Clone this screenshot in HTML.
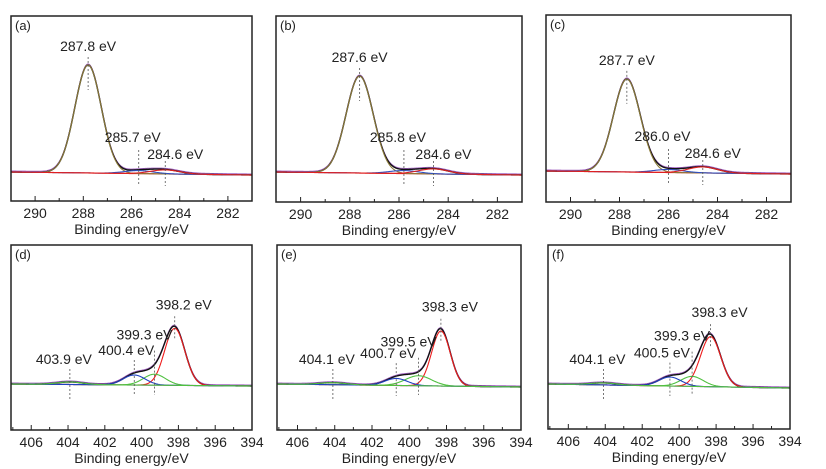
<!DOCTYPE html>
<html><head><meta charset="utf-8">
<style>
html,body{margin:0;padding:0;background:#fff;}
svg{display:block;font-family:"Liberation Sans",Arial,sans-serif;}
</style></head>
<body>
<svg id="fig" width="826" height="469" viewBox="0 0 826 469" xmlns="http://www.w3.org/2000/svg"></svg>
<script>
// Panel data (energies in eV, heights in arbitrary counts)
const panelLetters = ['(a)','(b)','(c)','(d)','(e)','(f)'];
const peakCenters = [
  [287.8, 285.7, 284.6],
  [287.6, 285.8, 284.6],
  [287.7, 286.0, 284.6],
  [398.2, 399.3, 400.4, 403.9],
  [398.3, 399.5, 400.7, 404.1],
  [398.3, 399.3, 400.5, 404.1]
];
const peakHeights = [
  [108, 3, 4],
  [97, 3, 5],
  [93, 3, 6],
  [57, 11, 10, 2.5],
  [55, 10, 7, 2],
  [50, 10, 9, 2]
];
const peakSigmas = [
  [0.55, 0.6, 0.6],
  [0.55, 0.6, 0.6],
  [0.55, 0.6, 0.6],
  [0.55, 0.6, 0.6, 0.7],
  [0.5, 0.7, 0.6, 0.7],
  [0.55, 0.6, 0.6, 0.7]
];
const peakLabels = [
  ['287.8 eV','285.7 eV','284.6 eV'],
  ['287.6 eV','285.8 eV','284.6 eV'],
  ['287.7 eV','286.0 eV','284.6 eV'],
  ['398.2 eV','399.3 eV','400.4 eV','403.9 eV'],
  ['398.3 eV','399.5 eV','400.7 eV','404.1 eV'],
  ['398.3 eV','399.3 eV','400.5 eV','404.1 eV']
];
const bgLeft = [1, 1, 1, 1, 1, 1];
const bgRight = [-2, -2, -2, -1, -2, -3];
const topTicks = [290, 288, 286, 284, 282];
const botTicks = [406, 404, 402, 400, 398, 396, 394];

// layout (not data)
const boxes = [
  {x:11,y:16,w:241,h:185},{x:276,y:16,w:246,h:186},{x:546,y:15,w:245,h:187},
  {x:11,y:245,w:241,h:185},{x:277,y:245,w:244,h:185},{x:548,y:245,w:242,h:184}
];
const topColors = ['#8a7a38','#3050c0','#e02020'];
const botColors = ['#ee1c1c','#50c040','#2040c0','#50c040'];
const NS='http://www.w3.org/2000/svg';
const svg=document.getElementById('fig');
function mk(tag,attrs,parent){const e=document.createElementNS(NS,tag);for(const k in attrs)e.setAttribute(k,attrs[k]);(parent||svg).appendChild(e);return e;}
function gauss(x,c,h,s){return h*Math.exp(-0.5*((x-c)/s)*((x-c)/s));}

for(let p=0;p<6;p++){
  const b=boxes[p], top=p<3;
  const xL=top?291:407.1, xR=top?281:394;
  const base=b.y+(top?157:140);
  const xs=v=>b.x+(xL-v)/(xL-xR)*b.w;
  const ys=v=>base-v;
  const g=mk('g',{});
  
  
  const clipId='clip'+p;
  const cp=mk('clipPath',{id:clipId},g);
  mk('rect',{x:b.x,y:b.y,width:b.w,height:b.h},cp);
  const plot=mk('g',{'clip-path':'url(#'+clipId+')'},g);
  const bg=x=>bgLeft[p]+(bgRight[p]-bgLeft[p])*(xL-x)/(xL-xR);
  const N=300;
  const comps=peakCenters[p].map((c,i)=>{let d='';for(let k=0;k<=N;k++){const x=xL-(xL-xR)*k/N;const v=bg(x)+gauss(x,c,peakHeights[p][i],peakSigmas[p][i]);d+=(k?'L':'M')+xs(x).toFixed(2)+','+ys(v).toFixed(2);}return d;});
  let env='',bgd='';
  for(let k=0;k<=N;k++){const x=xL-(xL-xR)*k/N;let v=bg(x);peakCenters[p].forEach((c,i)=>v+=gauss(x,c,peakHeights[p][i],peakSigmas[p][i]));env+=(k?'L':'M')+xs(x).toFixed(2)+','+ys(v).toFixed(2);bgd+=(k?'L':'M')+xs(x).toFixed(2)+','+ys(bg(x)).toFixed(2);}
  const bgl=mk('path',{d:bgd,fill:'none',stroke:top?'#e02020':'#b050c0','stroke-width':1.2},plot);
  
  
  const el2=mk('path',{d:env,fill:'none',stroke:'#a060c0','stroke-width':1,transform:'translate(0,-1)'},plot);
  
  
  const el=mk('path',{d:env,fill:'none',stroke:'#111','stroke-width':1.4},plot);
  
  
  comps.forEach((d,i)=>{const e=mk('path',{d:d,fill:'none',stroke:top?topColors[i]:botColors[i],'stroke-width':1.1},plot);
    
    });
  // annotations
  peakCenters[p].forEach((c,i)=>{
    let yPeak=bg(c); peakCenters[p].forEach((cc,j)=>yPeak+=gauss(c,cc,peakHeights[p][j],peakSigmas[p][j]));
    let dTop,dBot,ly,lx;
    if(top){
      if(i===0){dTop=ys(yPeak)-8;dBot=ys(yPeak)+25;ly=ys(yPeak)-14;lx=xs(c);}
      else if(i===1){dTop=base-23;dBot=base+13;ly=base-31;lx=xs(c)-6;}
      else{dTop=base-12;dBot=base+13;ly=base-14;lx=xs(c)+10;}
    } else {
      if(i===0){dTop=ys(yPeak)-10;dBot=ys(yPeak)+14;ly=ys(yPeak)-17;lx=xs(c)+9;}
      else if(i===1){dTop=ys(yPeak)-14;dBot=base+10;ly=ys(yPeak)-25;lx=xs(c)-10;}
      else if(i===2){dTop=ys(yPeak)-13;dBot=base+11;ly=ys(yPeak)-18;lx=xs(c)-8;}
      else{dTop=base-16;dBot=base+14;ly=base-21;lx=xs(c)-6;}
    }
    const dl=mk('line',{x1:xs(c),x2:xs(c),y1:dTop,y2:dBot,stroke:'#555','stroke-width':0.8,'stroke-dasharray':'2,2'},g);
    
    
    const t=mk('text',{x:lx,y:ly,'font-size':14,'text-anchor':'middle',fill:'#222'},g);
    t.textContent=peakLabels[p][i];
    
    
  });
  const fr=mk('rect',{x:b.x,y:b.y,width:b.w,height:b.h,fill:'none',stroke:'#222','stroke-width':1.5},g);
  
  
  const pl=mk('text',{x:b.x+4,y:b.y+14,'font-size':13,fill:'#222'},g);
  pl.textContent=panelLetters[p];
  
  
  const ticks=top?topTicks:botTicks;
  const lo=Math.min(xL,xR),hi=Math.max(xL,xR);
  for(let v=Math.ceil(lo);v<=hi;v++){
    const major=ticks.includes(v);
    const X=xs(v);
    const tk=mk('line',{x1:X,x2:X,y1:b.y+b.h,y2:b.y+b.h-(major?5:3),stroke:'#222','stroke-width':1},g);
    
    
  }
  ticks.forEach(v=>{const t=mk('text',{x:xs(v),y:b.y+b.h+17,'font-size':14,'text-anchor':'middle',fill:'#222'},g);
    t.textContent=v;
    
    });
  const at=mk('text',{x:b.x+b.w/2,y:b.y+b.h+33,'font-size':14,'text-anchor':'middle',fill:'#222'},g);
  at.textContent='Binding energy/eV';
  
  
}
</script>
</body></html>
